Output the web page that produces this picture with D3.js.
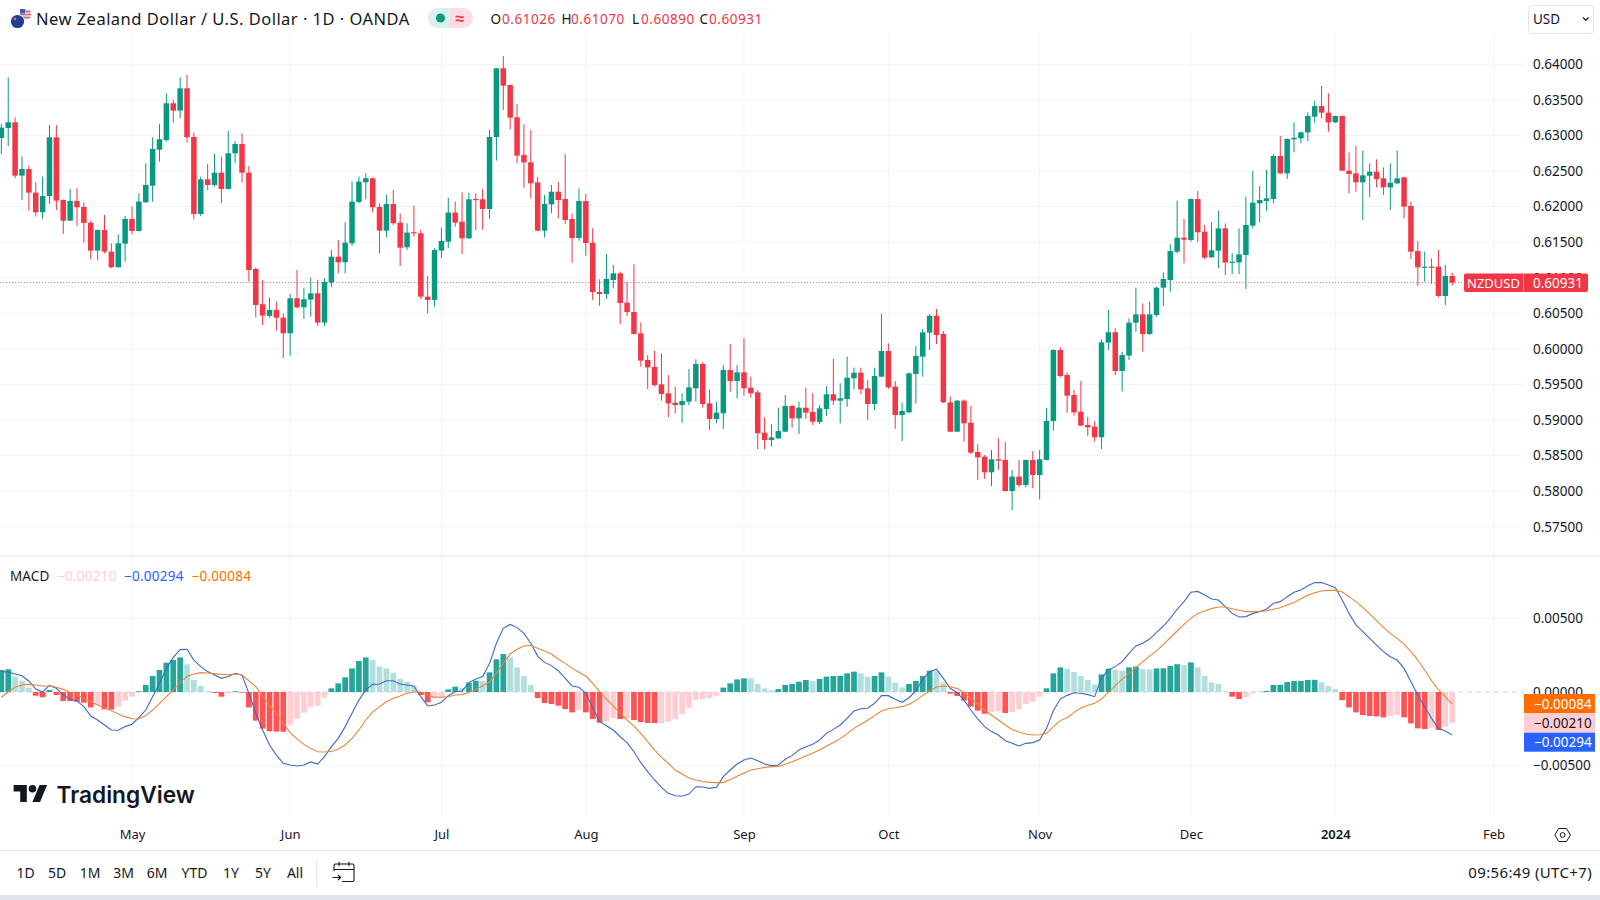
<!DOCTYPE html>
<html><head><meta charset="utf-8">
<script src="https://cdn.jsdelivr.net/npm/d3@7/dist/d3.min.js"></script>
<style>
html,body{margin:0;padding:0;background:#fff;overflow:hidden}
svg{display:block}
text{font-family:"Noto Sans",sans-serif;fill:#131722}
</style></head><body><svg id="c" width="1600" height="900"></svg>
<script>
const opens=[.62964,.63105,.63185,.62435,.62529,.62196,.61920,.62149,.62974,.62093,
.61802,.62079,.61995,.61774,.61381,.61671,.61367,.61147,.61479,.61826,
.61657,.62060,.62294,.62800,.62936,.63452,.63349,.63662,.62978,.61896,
.62383,.62304,.62477,.62248,.62749,.62880,.62477,.61123,.60627,.60463,
.60547,.60439,.60219,.60711,.60584,.60692,.60781,.60369,.60931,.61296,
.61217,.61484,.62065,.62341,.62398,.61995,.61662,.62037,.61774,.61428,
.61639,.61625,.60734,.60688,.61381,.61507,.61915,.61788,.61554,.62107,
.62102,.61966,.62978,.63944,.63709,.63255,.62726,.62622,.62340,.61661,
.62031,.62209,.62106,.61825,.61558,.62078,.61492,.60799,.60771,.60968,
.61061,.60649,.60518,.60218,.59843,.59745,.59501,.59375,.59244,.59211,
.59258,.59445,.59787,.59234,.59014,.59094,.59703,.59548,.59670,.59454,
.59389,.58822,.58719,.58742,.58836,.59197,.59023,.59173,.59112,.58972,
.59155,.59361,.59272,.59295,.59586,.59665,.59445,.59225,.59609,.59970,
.59469,.59070,.59108,.59647,.59890,.60228,.60466,.60209,.59248,.58836,
.59272,.58963,.58550,.58485,.58264,.58447,.58438,.58002,.58204,.58086,
.58438,.58227,.58438,.58986,.59984,.59633,.59352,.59118,.58930,.58907,
.58757,.60087,.60233,.59689,.59905,.60368,.60485,.60209,.60476,.60860,
.60968,.61366,.61563,.61530,.62106,.61647,.61287,.61380,.61694,.61216,
.61216,.61319,.61732,.62045,.62078,.62106,.62711,.62467,.62945,.62959,
.63043,.63264,.63413,.63320,.63184,.63273,.62505,.62467,.62341,.62434,
.62491,.62397,.62270,.62327,.62411,.62008,.61375,.61146,.61155,.61155,
.60743,.61026];
const highs=[.63161,.63817,.63255,.62702,.62576,.62341,.62421,.63147,.63147,.62100,
.62248,.62257,.62060,.61802,.61680,.61882,.61484,.61610,.61868,.61999,
.62187,.62608,.62974,.63161,.63592,.63499,.63817,.63850,.63039,.62421,
.62599,.62740,.62702,.63063,.62922,.63030,.62571,.61142,.60968,.60720,
.60664,.60500,.60772,.61109,.60851,.61001,.60968,.60992,.61390,.61531,
.61779,.62351,.62421,.62468,.62405,.62046,.62163,.62234,.61906,.61765,
.62013,.61671,.61025,.61414,.61704,.62126,.62070,.62201,.62196,.62187,
.62248,.63077,.63950,.64117,.63715,.63442,.63156,.63077,.62420,.62162,
.62303,.62350,.62739,.61905,.62256,.62176,.61694,.60977,.61333,.61179,
.61085,.60944,.61188,.60368,.59914,.59974,.59937,.59633,.59469,.59375,
.59717,.59853,.59811,.59431,.59258,.59773,.60068,.59773,.60153,.59609,
.59422,.59037,.58944,.59173,.59352,.59215,.59258,.59454,.59375,.59211,
.59478,.59857,.59515,.59890,.59736,.59736,.59562,.59736,.60490,.60078,
.59548,.59244,.59670,.60040,.60279,.60490,.60560,.60251,.59328,.59281,
.59290,.59201,.58658,.58508,.58578,.58742,.58695,.58297,.58438,.58445,
.58564,.58578,.59164,.59994,.60022,.59666,.59422,.59549,.59047,.58986,
.60134,.60546,.60289,.59961,.60429,.60860,.60640,.60663,.60874,.61076,
.61469,.62083,.61825,.62115,.62219,.61741,.61778,.61942,.61764,.61343,
.61694,.62139,.62500,.62289,.62514,.62734,.62992,.62959,.63184,.63053,
.63324,.63488,.63695,.63592,.63280,.63283,.62762,.62851,.62786,.62608,
.62664,.62551,.62608,.62786,.62420,.62069,.61516,.61366,.61272,.61390,
.61179,.61070];
const lows=[.62740,.62852,.62398,.62093,.61943,.61859,.61826,.62037,.61952,.61615,
.61795,.61728,.61493,.61259,.61250,.61343,.61133,.61140,.61226,.61610,
.61648,.62055,.62070,.62632,.62913,.63180,.63241,.62899,.61821,.61868,
.62234,.62280,.62046,.62240,.62608,.62337,.60945,.60444,.60336,.60439,
.60256,.59868,.59905,.60570,.60420,.60453,.60322,.60322,.60866,.61062,
.61062,.61446,.62046,.62102,.61920,.61343,.61568,.61742,.61165,.61390,
.61578,.60697,.60500,.60594,.61273,.61414,.61718,.61334,.61545,.61671,
.61671,.61826,.62646,.63358,.63086,.62608,.62266,.62116,.61655,.61567,
.61905,.61834,.61755,.61211,.61521,.61310,.60687,.60607,.60701,.60851,
.60349,.60462,.60205,.59750,.59436,.59469,.59272,.59037,.59094,.58963,
.59211,.59258,.59173,.58860,.58953,.58874,.59398,.59305,.59342,.59314,
.58592,.58588,.58625,.58735,.58830,.58892,.58803,.59014,.58930,.58944,
.59056,.59211,.58953,.59187,.59431,.59365,.59000,.59141,.59600,.59440,
.58874,.58705,.59094,.59234,.59609,.59984,.60068,.59240,.58830,.58830,
.58695,.58522,.58157,.58171,.58072,.58297,.57995,.57735,.58054,.58054,
.58040,.57885,.58430,.58850,.59595,.59103,.59061,.58916,.58775,.58696,
.58593,.59984,.59633,.59399,.59844,.60242,.59961,.60195,.60453,.60602,
.60804,.61343,.61202,.61507,.61507,.61263,.61280,.61132,.61038,.61052,
.61052,.60841,.61694,.61774,.61942,.62045,.62460,.62387,.62762,.62889,
.62922,.63179,.63240,.63053,.63175,.62500,.62186,.62209,.61811,.62130,
.62270,.62163,.61952,.62317,.61835,.61263,.60884,.60944,.60912,.60724,
.60616,.60890];
const closes=[.63110,.63185,.62435,.62529,.62196,.61920,.62149,.62974,.62084,.61802,
.62079,.61990,.61770,.61381,.61671,.61367,.61147,.61484,.61826,.61657,
.62070,.62304,.62810,.62946,.63452,.63349,.63662,.62974,.61896,.62383,
.62304,.62477,.62248,.62749,.62880,.62477,.61109,.60617,.60467,.60547,
.60439,.60219,.60711,.60584,.60697,.60781,.60369,.60940,.61296,.61217,
.61493,.62070,.62351,.62398,.61990,.61662,.62037,.61765,.61423,.61634,
.61629,.60734,.60688,.61390,.61517,.61915,.61774,.61554,.62102,.62098,
.61966,.62978,.63944,.63700,.63250,.62716,.62622,.62327,.61661,.62036,
.62209,.62092,.61811,.61558,.62078,.61488,.60799,.60771,.60982,.61061,
.60644,.60518,.60209,.59834,.59740,.59492,.59365,.59234,.59211,.59267,
.59459,.59787,.59225,.59014,.59103,.59703,.59548,.59670,.59445,.59375,
.58813,.58719,.58756,.58845,.59197,.59023,.59173,.59103,.58977,.59164,
.59361,.59272,.59305,.59595,.59665,.59431,.59225,.59618,.59970,.59459,
.59070,.59127,.59656,.59900,.60232,.60466,.60195,.59248,.58836,.59272,
.58953,.58541,.58475,.58264,.58447,.58428,.58002,.58204,.58086,.58438,
.58227,.58447,.58986,.59984,.59619,.59342,.59108,.58921,.58897,.58757,
.60092,.60233,.59689,.59914,.60368,.60485,.60209,.60485,.60860,.60982,
.61375,.61563,.61535,.62106,.61638,.61282,.61385,.61694,.61212,.61226,
.61329,.61741,.62055,.62092,.62116,.62711,.62467,.62950,.62968,.63043,
.63273,.63413,.63320,.63184,.63273,.62505,.62458,.62341,.62439,.62491,
.62387,.62270,.62336,.62397,.61999,.61366,.61146,.61155,.61146,.60743,
.61024,.60931];
const histogram=[.0015,.00155,.00105,.00075,.0003,-.00025,-.00036,.00014,-.0002,-.00061,
-.00062,-.00066,-.00073,-.00105,-.00089,-.00118,-.00119,-.001,-.00059,-.00032,
.00005,.00048,.00109,.0015,.002,.00218,.00236,.00189,.00082,.00041,
.00005,-.00007,-.00032,-.00009,.00005,-.00005,-.00105,-.00195,-.0025,-.00268,
-.0027,-.00271,-.00225,-.00184,-.00141,-.001,-.00093,-.00039,.00025,.00059,
.001,.00161,.00211,.00236,.00218,.00173,.00161,.00132,.00089,.0007,
.00041,-.0002,-.0007,-.00043,-.00039,.00018,.00036,.00027,.00064,.00077,
.00076,.00134,.00223,.00259,.00236,.00168,.00109,.00048,-.00041,-.00075,
-.00082,-.00093,-.00116,-.00139,-.00123,-.00139,-.00184,-.00209,-.00202,-.00175,
-.00184,-.00182,-.00191,-.00205,-.00211,-.00212,-.00211,-.00202,-.00184,-.00152,
-.00107,-.00055,-.00048,-.00043,-.00025,.0003,.00059,.00086,.00093,.00092,
.00055,.00025,.00011,.0002,.00048,.00055,.0007,.00082,.00075,.00089,
.00105,.00109,.0011,.00127,.00139,.00127,.00105,.00109,.00134,.00105,
.00064,.00032,.00055,.00075,.00109,.00145,.00143,.00064,-.00011,-.00027,
-.00059,-.001,-.00127,-.00148,-.00136,-.0013,-.00143,-.00136,-.00118,-.00082,
-.00066,-.00032,.00025,.00127,.00168,.00159,.00136,.00109,.00082,.00052,
.0012,.00159,.0015,.00143,.00168,.00173,.00155,.00154,.00161,.00162,
.00177,.00189,.00184,.00202,.00168,.00109,.00066,.00055,.00005,-.00032,
-.00048,-.00036,-.00007,.00001,.00007,.00048,.00049,.00068,.00075,.00076,
.00082,.00083,.00066,.00041,.0002,-.00055,-.00105,-.00139,-.00157,-.00164,
-.00166,-.00173,-.00164,-.00155,-.00173,-.00214,-.00248,-.00252,-.00243,-.00259,
-.00236,-.0021];
const macd=[.00139,.00136,.00123,.00111,.00075,.0002,0,.00045,.00025,-.0002,
-.0005,-.00061,-.001,-.00164,-.00191,-.00225,-.00259,-.00261,-.00236,-.0022,
-.00175,-.00123,-.00032,.00059,.00161,.00236,.00289,.00291,.00218,.00173,
.00139,.00116,.00093,.00105,.00127,.00116,-.00009,-.00145,-.00259,-.00361,
-.0043,-.00486,-.00498,-.00505,-.00498,-.00477,-.00491,-.00441,-.00373,-.00316,
-.00236,-.00145,-.00055,.00014,.00052,.00055,.00077,.00077,.00055,.00048,
.00041,-.00032,-.00095,-.00089,-.0007,-.00025,.00002,.00007,.00064,.00089,
.00105,.00195,.00332,.00434,.00461,.00439,.004,.00332,.00245,.00202,
.0018,.00145,.00093,.00041,.00032,-.00009,-.00107,-.00202,-.0023,-.00259,
-.00305,-.00345,-.00407,-.00482,-.00543,-.006,-.0065,-.00691,-.00707,-.00711,
-.00696,-.00646,-.00648,-.00657,-.0065,-.00577,-.00532,-.00491,-.00464,-.0045,
-.00468,-.00491,-.00502,-.00498,-.00459,-.00434,-.00395,-.00373,-.00357,-.00327,
-.00282,-.00255,-.00225,-.0018,-.0013,-.00114,-.00111,-.00077,-.00025,-.00025,
-.0005,-.0007,-.00039,.00007,.00086,.00139,.00155,.00093,.00025,-.00005,
-.00055,-.00123,-.00184,-.00236,-.0027,-.00293,-.00332,-.0035,-.00368,-.0035,
-.00345,-.00327,-.00248,-.00127,-.00048,-.00023,-.00005,-.00009,-.00018,-.00032,
.00093,.0015,.00173,.00207,.00264,.00314,.00332,.00361,.00407,.0045,
.00502,.00564,.00616,.0068,.00686,.00661,.00634,.00627,.00582,.00536,
.00511,.00514,.00536,.00548,.00564,.00605,.00616,.0065,.0068,.00696,
.00725,.00746,.00746,.0073,.00711,.00627,.00536,.00457,.00411,.00366,
.0032,.00275,.00241,.00218,.00161,.0007,-.0002,-.001,-.0018,-.00248,
-.00266,-.00294];
const signal=[-.00036,.00002,.00032,.00048,.00052,.00048,.00041,.00041,.00032,.00018,
-.00002,-.0002,-.00043,-.00066,-.00089,-.00107,-.00127,-.0015,-.00168,-.00182,
-.00184,-.00161,-.00123,-.00077,-.00032,.00014,.00064,.00105,.00123,.00132,
.0013,.00125,.0012,.00118,.00123,.00116,.00077,.00036,-.00025,-.00089,
-.00145,-.00214,-.00277,-.0032,-.00357,-.00386,-.00407,-.00409,-.00405,-.00389,
-.00361,-.00316,-.00259,-.00191,-.00136,-.001,-.00066,-.00043,-.00027,-.00009,
0,0,-.0002,-.00036,-.00036,-.00032,-.0002,-.00018,-.00002,.00018,
.00041,.0007,.00127,.00195,.00259,.00291,.00314,.00318,.00298,.0028,
.00259,.00225,.00195,.00161,.00134,.00109,.00059,.00002,-.00048,-.00095,
-.00145,-.00191,-.00232,-.00282,-.00339,-.00395,-.00446,-.00486,-.00532,-.00559,
-.00586,-.006,-.00609,-.00616,-.00618,-.00616,-.00598,-.00575,-.00552,-.00532,
-.00523,-.00514,-.00509,-.00507,-.00493,-.00475,-.00457,-.00436,-.00416,-.00395,
-.00368,-.00345,-.00318,-.00284,-.00248,-.0022,-.00193,-.00161,-.0013,-.00114,
-.00107,-.001,-.00084,-.00059,-.00023,.00007,.00034,.00041,.00036,.00023,
-.00005,-.00041,-.00082,-.00123,-.00157,-.00191,-.00225,-.00255,-.00273,-.00286,
-.00293,-.00291,-.00282,-.00236,-.00195,-.00175,-.00139,-.00109,-.00091,-.00077,
-.00048,-.00002,.00043,.00086,.00127,.00166,.00207,.00245,.0028,.00325,
.0037,.00416,.00461,.00502,.00536,.00552,.0057,.0058,.0058,.00568,
.00557,.00548,.00548,.0055,.00552,.00564,.00575,.00593,.00611,.00636,
.00659,.00677,.00689,.00693,.00693,.00682,.0065,.00616,.00577,.00532,
.00486,.00441,.004,.00366,.00327,.00275,.00218,.0015,.00077,.00014,
-.00032,-.00084];
const priceTicks=[.64,.635,.63,.625,.62,.615,.61,.605,.6,.595,.59,.585,.58,.575];
const macdTicks=[.005,0,-.005];
const monthIndices=[19,42,64,85,108,129,151,173,194,217];
const monthLabels=["May","Jun","Jul","Aug","Sep","Oct","Nov","Dec","2024","Feb"];
const rangeButtons=["1D","5D","1M","3M","6M","YTD","1Y","5Y","All"];
const ohlcLetters=["O","H","L","C"];
const ohlcValues=["0.61026","0.61070","0.60890","0.60931"];
const macdLegend=["\u22120.00210","\u22120.00294","\u22120.00084"];

const UP="#089981",DN="#F23645",GRID="#F2F4F9",LINE="#E0E3EB";
const svg=d3.select("#c");
const W=1600,H=900,AX=1524;
const x=d3.scaleLinear().domain([19,211]).range([132,132+192*6.876]);
const yP=d3.scaleLinear().domain([.575,.64]).range([526.7,64.3]);
const yM=d3.scaleLinear().domain([-.005,.005]).range([765.33,618.67]);
const idx=d3.range(closes.length);
const fmt=d3.format(".5f");
function T(g,s,px,py,o={}){const t=g.append("text").text(s).attr("x",px).attr("y",py)
 .attr("dominant-baseline","central").attr("font-size",o.size||13).attr("text-anchor",o.anchor||"start");
 if(o.fill)t.style("fill",o.fill); if(o.weight)t.attr("font-weight",o.weight);
 if(o.ls)t.attr("letter-spacing",o.ls); if(o.family)t.style("font-family",o.family); return t;}

// grids
const grid=svg.append("g");
grid.selectAll("line.v").data(monthIndices).join("line").attr("x1",d=>x(d)).attr("x2",d=>x(d))
 .attr("y1",33).attr("y2",817).attr("stroke",GRID);
grid.selectAll("line.p").data(priceTicks).join("line").attr("x1",0).attr("x2",AX)
 .attr("y1",d=>yP(d)).attr("y2",d=>yP(d)).attr("stroke",GRID);
grid.selectAll("line.m").data(macdTicks.filter(d=>d)).join("line").attr("x1",0).attr("x2",AX)
 .attr("y1",d=>yM(d)).attr("y2",d=>yM(d)).attr("stroke",GRID);
grid.append("line").attr("x1",0).attr("x2",AX).attr("y1",yM(0)).attr("y2",yM(0))
 .attr("stroke","#C9D2DE").attr("stroke-dasharray","5 4");

// separators
svg.append("line").attr("x1",0).attr("x2",W).attr("y1",556).attr("y2",556).attr("stroke",LINE).attr("stroke-width",1);
svg.append("line").attr("x1",0).attr("x2",W).attr("y1",850.5).attr("y2",850.5).attr("stroke",LINE).attr("stroke-width",1);
svg.append("rect").attr("x",0).attr("y",895).attr("width",W).attr("height",5).attr("fill","#E0E3EB");

// price line
svg.append("line").attr("x1",0).attr("x2",1462).attr("y1",yP(closes[211])).attr("y2",yP(closes[211]))
 .attr("stroke",DN).attr("stroke-width",1).attr("stroke-dasharray","1 2").attr("opacity",.75);

// candles
const bw=5.5;
const colr=i=>closes[i]>=opens[i]?UP:DN;
const cg=svg.append("g");
cg.selectAll("line").data(idx).join("line").attr("x1",x).attr("x2",x)
 .attr("y1",i=>yP(highs[i])).attr("y2",i=>yP(lows[i])).attr("stroke",colr).attr("stroke-width",1);
cg.selectAll("rect").data(idx).join("rect").attr("x",i=>x(i)-bw/2).attr("width",bw)
 .attr("y",i=>yP(Math.max(opens[i],closes[i])))
 .attr("height",i=>Math.max(1.2,Math.abs(yP(opens[i])-yP(closes[i])))).attr("fill",colr);

// histogram
const hcol=i=>{const v=histogram[i],p=i?histogram[i-1]:v-1;
 return v>=0?(v>p?"#26A69A":"#B2DFDB"):(v<p?"#FF5252":"#FFCDD2");};
svg.append("g").selectAll("rect").data(idx).join("rect").attr("x",i=>x(i)-2.85).attr("width",5.7)
 .attr("y",i=>Math.min(yM(0),yM(histogram[i]))).attr("height",i=>Math.abs(yM(histogram[i])-yM(0)))
 .attr("fill",hcol);
const lineOf=a=>d3.line().x(i=>x(i)).y(i=>yM(a[i])).curve(d3.curveLinear)(idx);
svg.append("path").attr("d",lineOf(macd)).attr("fill","none").attr("stroke","#3F68C8").attr("stroke-width",1.1);
svg.append("path").attr("d",lineOf(signal)).attr("fill","none").attr("stroke","#E9853A").attr("stroke-width",1.1);

// axes
const styleAxis=(g,size)=>{g.select(".domain").remove();g.selectAll(".tick line").remove();
 g.selectAll("text").attr("font-size",size).style("font-family",'"Noto Sans",sans-serif').style("fill","#131722");};
svg.append("g").attr("transform",`translate(1533,0)`)
 .call(d3.axisRight(yP).tickValues(priceTicks).tickFormat(fmt).tickSize(0).tickPadding(0))
 .call(g=>styleAxis(g,13.5));
svg.append("g").attr("transform",`translate(1533,0)`)
 .call(d3.axisRight(yM).tickValues(macdTicks).tickFormat(fmt).tickSize(0).tickPadding(0))
 .call(g=>styleAxis(g,13.5));
svg.append("g").attr("transform",`translate(0,829.4)`)
 .call(d3.axisBottom(x).tickValues(monthIndices).tickFormat((d,i)=>monthLabels[i]).tickSize(0).tickPadding(0))
 .call(g=>styleAxis(g,13)).call(g=>g.selectAll("text").attr("font-weight",d=>d===194?600:400));

// price tag
const tagG=svg.append("g");
tagG.append("rect").attr("x",1464).attr("y",273.5).attr("width",124).attr("height",18.5).attr("rx",2).attr("fill",DN);
tagG.append("line").attr("x1",1523.5).attr("x2",1523.5).attr("y1",273.5).attr("y2",292).attr("stroke","#fff").attr("stroke-opacity",.5);
T(tagG,"NZDUSD",1493.5,283,{fill:"#fff",anchor:"middle",size:13});
T(tagG,fmt(closes[211]),1533,283,{fill:"#fff",size:13.5});

// macd tags
const tags=[[694,19.3,"#FF6D00","#fff",macdLegend[2]],[713.3,19.4,"#FFCDD2","#131722",macdLegend[0]],[732.7,19,"#2962FF","#fff",macdLegend[1]]];
tags.forEach(t=>{svg.append("rect").attr("x",1524).attr("y",t[0]).attr("width",71).attr("height",t[1]).attr("fill",t[2]);
 T(svg,t[4],1534,t[0]+t[1]/2,{fill:t[3],size:13.5});});

// header
const hd=svg.append("g");
hd.append("circle").attr("cx",25.5).attr("cy",14.5).attr("r",5.8).attr("fill","#d9e3f3");
hd.append("path").attr("d","M20.5 11.5h10M20 14.5h11M21 17.5h9").attr("stroke","#e0606a").attr("stroke-width",1.5);
hd.append("rect").attr("x",20).attr("y",9).attr("width",5).attr("height",4.5).attr("fill","#3b5fb8");
hd.append("circle").attr("cx",17.5).attr("cy",21.5).attr("r",7.2).attr("fill","#fff");
hd.append("circle").attr("cx",17.5).attr("cy",21.5).attr("r",6.6).attr("fill","#1c3f94");
hd.append("circle").attr("cx",15).attr("cy",19).attr("r",1.4).attr("fill","#e0606a");
T(hd,"New Zealand Dollar / U.S. Dollar · 1D · OANDA",36,18.5,{size:16.5,ls:.48});
hd.append("path").attr("d","M438 8h12v20h-12a10 10 0 0 1 0-20z").attr("fill","#D9F0EB");
hd.append("path").attr("d","M450 8h13a10 10 0 0 1 0 20h-13z").attr("fill","#FCDDE3");
hd.append("circle").attr("cx",440.5).attr("cy",18).attr("r",4.5).attr("fill",UP);
T(hd,"\u2248",460,18,{fill:DN,anchor:"middle",size:16,weight:600});
const ox=[490.5,561.5,632,699.5],vx=[502,571,641,709];
ohlcLetters.forEach((s,i)=>{T(hd,s,ox[i],18.5,{size:13.5});T(hd,ohlcValues[i],vx[i],18.5,{size:13.5,fill:DN,ls:.55});});
hd.append("rect").attr("x",1528.5).attr("y",5.5).attr("width",65).attr("height",28).attr("rx",4).attr("fill","#fff").attr("stroke",LINE);
T(hd,"USD",1533,18.5,{size:13.5});
hd.append("path").attr("d","M1583 17.5l2.8 2.6 2.8-2.6").attr("fill","none").attr("stroke","#131722").attr("stroke-width",1.2);

// macd legend
T(svg,"MACD",10,575.5,{size:13.5,ls:.1});
[[57,"#FFCDD2",0],[124,"#2962FF",1],[191.5,"#FF6D00",2]].forEach(l=>T(svg,macdLegend[l[2]],l[0],575.5,{size:13.5,fill:l[1],ls:.25}));

// logo
const logo=svg.append("g").attr("transform","translate(13.6,781.2) scale(.944)");
logo.append("path").attr("d","M14 22H7V11H0V4h14v18zM28 22h-8l7.5-18h8L28 22z").attr("fill","#131722");
logo.append("circle").attr("cx",20).attr("cy",8).attr("r",4).attr("fill","#131722");
T(svg,"TradingView",56.5,794,{size:22.7,weight:600,family:'"Inter",sans-serif'});

// bottom toolbar
const bx=[25.5,57,90,123.5,157,194.5,231,263,295];
rangeButtons.forEach((s,i)=>T(svg,s,bx[i],872.3,{anchor:"middle",size:14}));
svg.append("line").attr("x1",316.7).attr("x2",316.7).attr("y1",860).attr("y2",887).attr("stroke",LINE);
const cal=svg.append("g").attr("fill","none").attr("stroke","#131722").attr("stroke-width",1.1);
cal.append("path").attr("d","M334 871v-5.5a1.5 1.5 0 0 1 1.5-1.5h17a1.5 1.5 0 0 1 1.5 1.5V880a1.5 1.5 0 0 1-1.5 1.5H342M334 869.5h20M339 862v4M349 862v4M332.500 877.500h8M338 875l2.700 2.500-2.700 2.500");
T(svg,"09:56:49 (UTC+7)",1592,872.3,{anchor:"end",size:15,ls:.35});

// settings
svg.append("path").attr("d",d3.line()(d3.range(7).map(k=>{const a=k*Math.PI/3;return [1562.6+7.8*Math.cos(a),835+7.5*Math.sin(a)];})))
 .attr("fill","none").attr("stroke","#131722");
svg.append("circle").attr("cx",1562.6).attr("cy",835).attr("r",2.4).attr("fill","none").attr("stroke","#131722");
</script></body></html>
